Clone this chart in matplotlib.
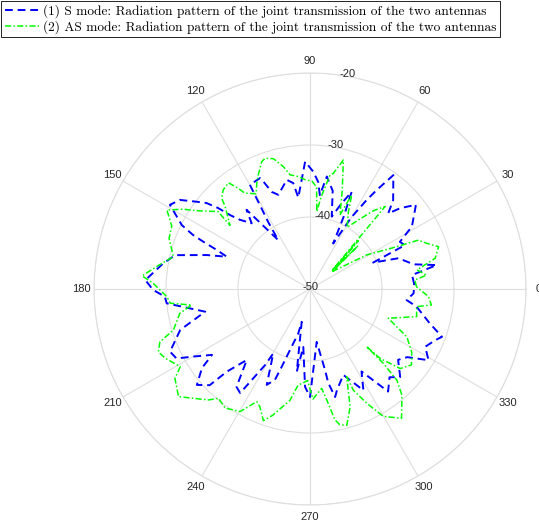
import numpy as np
import matplotlib.pyplot as plt

# (1) S mode, angle in degrees / level in dB
s_theta = [2.5, 7.8, 10.7, 13.4, 19.2, 22.7, 24.8, 27.7, 31.5, 38.5, 41.9, 44, 46.9, 53.8,
           56, 57.5, 60, 63, 65, 66.8, 70, 73.3, 77, 81.5, 84, 85.6, 88.4, 92.2, 97.3, 99,
           102, 108.6, 111.5, 113.5, 114.3, 120, 121, 122, 123, 128.7, 131.6, 135.4, 137.2,
           138.6, 140.3, 142.8, 145.6, 149, 153.5, 155.2, 156.1, 157.3, 158.8, 161.8, 165.9,
           170.1, 176.9, 180.3, 183, 185.7, 192.2, 197.5, 204.1, 207.5, 210.1, 213.9, 216.2,
           220.3, 223.8, 224.8, 228.3, 233.1, 236.1, 239.4, 240.3, 245.7, 248.9, 250, 251,
           252.9, 255.2, 255.8, 260.9, 263.4, 267.1, 270, 277.2, 280.5, 281, 283.1, 285,
           291.2, 297.8, 302, 307.3, 312, 315.7, 321.2, 325, 329, 333.4, 337.8, 340.1, 344,
           350.6, 353.5, 357.6, 362.5]
s_db = [-35.5, -35.7, -32.1, -35.2, -37.0, -40.5, -35.5, -35.9, -33.4, -31.2, -33.2, -34.9,
        -33.1, -30.4, -33.4, -35.3, -38.5, -42.9, -39.0, -35.3, -37.5, -39.5, -36.0, -34.2,
        -36.9, -35.1, -33.7, -32.3, -37.2, -35.1, -34.5, -36.2, -35.5, -33.7, -33.1, -33.3,
        -36.9, -39.1, -41.9, -35.9, -37.8, -36.3, -34.9, -33.0, -31.3, -29.9, -28.1, -27.3,
        -30.1, -32.1, -33.8, -36.0, -37.6, -34.9, -30.7, -29.3, -27.1, -28.2, -29.8, -30.0,
        -35.1, -31.1, -28.7, -29.1, -31.3, -33.6, -31.4, -29.4, -30.7, -33.7, -36.8, -33.0,
        -32.6, -37.7, -39.7, -35.4, -36.5, -38.5, -40.1, -42.1, -43.6, -45.3, -38.4, -41.9,
        -36.4, -35.0, -42.6, -38.6, -36.7, -34.6, -35.5, -37.2, -34.1, -36.5, -32.1, -33.5,
        -32.5, -34.3, -33.5, -30.8, -32.1, -31.2, -30.5, -32.7, -35.0, -36.5, -35.6, -35.5]

# (2) AS mode
as_theta = [1.2, 4.9, 6.8, 10.1, 13.8, 18.2, 21.4, 24.3, 26, 31, 38.5, 42, 39, 45, 40, 47.7,
            51, 55, 59, 63.6, 66.1, 68, 72, 75.5, 78.6, 80, 83, 85, 86.3, 89, 92.6, 95.9,
            99.9, 102.3, 105.7, 109, 110.8, 114.4, 116.8, 119.5, 124.2, 125.5, 127.5, 131.2,
            134.2, 135.9, 141.5, 139.9, 145.3, 147.8, 151.1, 155.5, 160.2, 166.7, 170.2, 175.5,
            177.9, 183.1, 185.8, 187.7, 190.6, 196.7, 199.4, 202.5, 205.5, 210.9, 213.5, 219.3,
            227.5, 230, 234.5, 240.3, 244.7, 247, 250.5, 253.5, 259.8, 263, 265, 268.5, 271.5,
            276.7, 278.6, 280.8, 282.4, 285.1, 288.8, 292.7, 293.2, 296.4, 299.9, 305.3, 310.9,
            313.6, 314.6, 314.5, 315.3, 318.6, 323.2, 328.3, 333.7, 339.5, 345.5, 350.6, 352.5,
            356.3, 361.2]
as_db = [-35.2, -35.4, -33.7, -34.9, -32.1, -31.2, -32.6, -33.5, -36.6, -40.8, -46.2, -41.0,
         -45.5, -40.5, -46.0, -34.5, -36.0, -38.3, -40.0, -38.0, -35.7, -38.9, -35.5, -31.5,
         -33.6, -33.9, -37.0, -39.2, -35.8, -35.0, -34.8, -34.3, -33.9, -32.6, -31.2, -30.8,
         -31.1, -32.6, -33.6, -34.8, -33.9, -32.8, -31.4, -31.7, -32.4, -33.6, -35.8, -33.3,
         -30.9, -29.2, -27.3, -28.9, -29.2, -30.5, -29.1, -26.6, -28.2, -30.1, -30.5, -33.4,
         -31.6, -30.2, -27.9, -27.2, -27.7, -29.0, -27.5, -26.4, -29.1, -30.2, -29.7, -30.4,
         -32.7, -32.2, -30.6, -31.7, -34.3, -36.6, -36.8, -37.3, -34.7, -36.1, -34.4, -31.5,
         -30.7, -30.4, -32.7, -36.8, -34.7, -32.3, -29.6, -28.0, -30.5, -32.5, -35.5, -38.8,
         -36.3, -33.3, -32.4, -33.4, -35.0, -38.4, -34.7, -35.0, -33.0, -33.5, -35.2]

r_ticks = [-50, -40, -30, -20]
theta_ticks = list(range(0, 360, 30))
r_label_angle = 80

fig = plt.figure(figsize=(5.39, 5.26), dpi=100)
ax = fig.add_axes([0.1744, 0.0399, 0.8015, 0.8213], projection='polar')

ax.plot(np.deg2rad(s_theta), s_db, color='b', lw=1.4, ls='--', dashes=(4, 2.5),
        label='(1) S mode: Radiation pattern of the joint transmission of the two antennas')
ax.plot(np.deg2rad(as_theta), as_db, color=(0, 1, 0), lw=1.1, dashes=(4, 1.5, 1, 1.5),
        label='(2) AS mode: Radiation pattern of the joint transmission of the two antennas')

ax.set_ylim(-50, -20)
ax.set_rgrids(r_ticks, labels=['' for r in r_ticks])
ax.set_thetagrids(theta_ticks, labels=[str(t) for t in theta_ticks],
                  family='Liberation Sans', fontsize=8, color='#262626')
ax.grid(True, color='#dedede', lw=0.8)
ax.spines['polar'].set_color('#dedede')
ax.spines['polar'].set_linewidth(0.8)
ax.tick_params(axis='x', pad=-1.7)

# radial labels centred on the 80 degree spoke, as MATLAB does
for r in r_ticks:
    ax.text(np.deg2rad(r_label_angle), r + 0.35, str(r), ha='center', va='center',
            family='Liberation Sans', fontsize=8, color='#262626', clip_on=False)

leg = fig.legend(loc='upper left', bbox_to_anchor=(0, 1), prop={'family': 'cmr10', 'size': 9.6},
                 fancybox=False, edgecolor='k', borderaxespad=0.1, handlelength=2.6,
                 handletextpad=0.3, labelspacing=0.1, borderpad=0.25, framealpha=1)
leg.get_frame().set_linewidth(0.6)

fig.savefig('out.png', dpi=100)
